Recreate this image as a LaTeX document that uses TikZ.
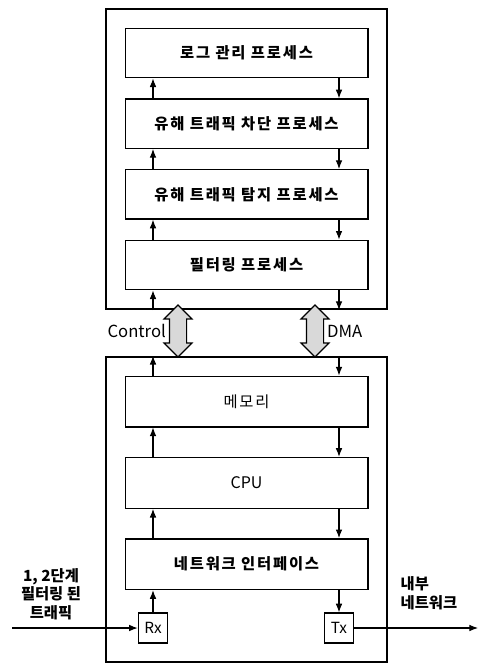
\documentclass[tikz,border=0pt]{standalone}
\usepackage{fontspec}
\setmainfont{Noto Sans CJK KR}
\usetikzlibrary{arrows.meta,positioning,fit,shapes.arrows}

\begin{document}
\begin{tikzpicture}[
  x=0.75pt, y=-0.75pt,
  font=\fontsize{11.5}{14}\selectfont\bfseries\addfontfeatures{LetterSpace=12},
  node distance=15pt,
  box/.style={
    draw=black,
    line width=1pt,
    minimum width=182pt,
    minimum height=37pt,
    inner sep=0pt
  },
  outer/.style={draw=black, line width=1.5pt, inner sep=14pt},
  port/.style={draw=black, line width=0.9pt, minimum width=22pt, minimum height=22.5pt, inner sep=0pt,
    font=\fontsize{11.5}{13}\selectfont},
  bus/.style={
    double arrow, draw=black, line width=0.9pt, fill=black!15,
    rotate=90, inner sep=6pt,
    minimum height=39pt,
    double arrow head extend=4pt
  },
  lbl/.style={inner sep=0pt, font=\fontsize{12.5}{14}\selectfont},
  arrow/.style={-{Latex[length=6.5pt,width=5pt]}, line width=0.8pt}
]
\useasboundingbox (0,0) rectangle (479,664);

% columns of the up and down links
\coordinate (upcol) at (153,0);
\coordinate (downcol) at (339,0);

% process stack
\node[box] (log) at (246.5,53) {로그 관리 프로세스};
\node[box, below=of log] (block) {유해 트래픽 차단 프로세스};
\node[box, below=of block] (detect) {유해 트래픽 탐지 프로세스};
\node[box, below=of detect] (filt) {필터링 프로세스};
\node[outer, fit=(log)(filt)] (procs) {};

% hardware stack
\node[box, minimum height=38pt, font=\fontsize{11.5}{14}\selectfont\addfontfeatures{LetterSpace=12}] (mem) at (246.5,401.5) {메모리};
\node[box, minimum height=38pt, below=22pt of mem, font=\fontsize{12}{14}\selectfont] (cpu) {CPU};
\node[box, minimum height=38pt, below=22pt of cpu] (nic) {네트워크 인터페이스};
\node[port] (rx) at (153,628) {Rx};
\node[port] (tx) at (339,628) {Tx};
\node[outer, fit=(mem)(nic)(rx)(tx)] (hw) {};

% buses between the two boards
\node[bus] (ctrl) at (178,331) {};
\node[bus] (dma) at (315,331) {};
\node[lbl, left=2pt of ctrl.north] (ctrllbl) {Control};
\node[lbl, right=2pt of dma.south] (dmalbl) {DMA};

% traffic in and out
\coordinate (in) at (12,628);
\coordinate (out) at (478,628);
\node[align=center, font=\fontsize{11.5}{14}\selectfont\bfseries] (inlbl) at (51,594) {1, 2단계\\필터링 된\\트래픽};
\node[align=left, anchor=west, font=\fontsize{11.5}{14}\selectfont\bfseries] (outlbl) at (396,593) {내부\\네트워크};

% upward links
\draw[arrow] (procs.south -| upcol) -- (filt.south -| upcol);
\draw[arrow] (filt.north -| upcol) -- (detect.south -| upcol);
\draw[arrow] (detect.north -| upcol) -- (block.south -| upcol);
\draw[arrow] (block.north -| upcol) -- (log.south -| upcol);
\draw[arrow] (mem.north -| upcol) -- (hw.north -| upcol);
\draw[arrow] (cpu.north -| upcol) -- (mem.south -| upcol);
\draw[arrow] (nic.north -| upcol) -- (cpu.south -| upcol);
\draw[arrow] (rx) -- (nic.south -| upcol);

% downward links
\draw[arrow] (log.south -| downcol) -- (block.north -| downcol);
\draw[arrow] (block.south -| downcol) -- (detect.north -| downcol);
\draw[arrow] (detect.south -| downcol) -- (filt.north -| downcol);
\draw[arrow] (filt.south -| downcol) -- (procs.south -| downcol);
\draw[arrow] (hw.north -| downcol) -- (mem.north -| downcol);
\draw[arrow] (mem.south -| downcol) -- (cpu.north -| downcol);
\draw[arrow] (cpu.south -| downcol) -- (nic.north -| downcol);
\draw[arrow] (nic.south -| downcol) -- (tx);

\draw[arrow] (in) -- (rx);
\draw[arrow] (tx) -- (out);

\end{tikzpicture}
\end{document}
